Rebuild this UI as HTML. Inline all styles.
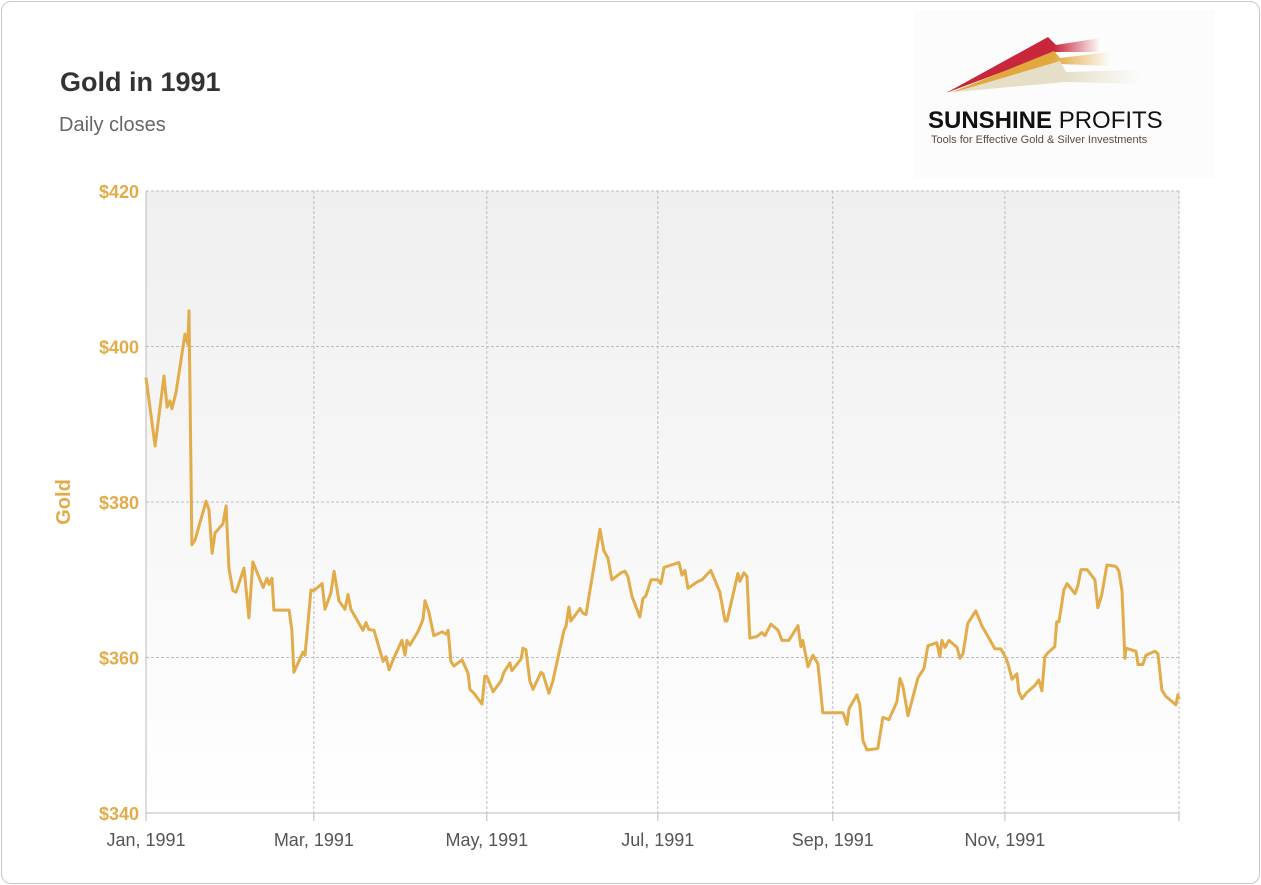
<!DOCTYPE html>
<html><head><meta charset="utf-8"><style>
html,body{margin:0;padding:0;background:#fff;}
body{width:1261px;height:885px;overflow:hidden;font-family:"Liberation Sans",sans-serif;}
#card{position:absolute;left:1px;top:1px;width:1257px;height:881px;border:1px solid #c8c8c8;border-radius:10px;background:#fff;}
</style></head><body>
<div id="card"></div>
<svg id="chart" width="1261" height="885" style="position:absolute;left:0;top:0">
<defs>
<linearGradient id="bg" x1="0" y1="0" x2="0" y2="1"><stop offset="0" stop-color="#efefef"/><stop offset="1" stop-color="#ffffff"/></linearGradient>
<linearGradient id="fr" x1="0" x2="1"><stop offset="0" stop-color="#c8263a"/><stop offset="0.7" stop-color="#c8263a"/><stop offset="1" stop-color="#c8263a" stop-opacity="0"/></linearGradient>
<linearGradient id="fo" x1="0" x2="1"><stop offset="0" stop-color="#e3a83d"/><stop offset="0.65" stop-color="#e3a83d"/><stop offset="1" stop-color="#e3a83d" stop-opacity="0"/></linearGradient>
<linearGradient id="fb" x1="0" x2="1"><stop offset="0" stop-color="#e6dfc8"/><stop offset="0.6" stop-color="#e6dfc8"/><stop offset="1" stop-color="#e6dfc8" stop-opacity="0"/></linearGradient>
</defs>
<text x="60" y="91" font-size="27" font-weight="bold" fill="#333">Gold in 1991</text>
<text x="59" y="131" font-size="20" fill="#666">Daily closes</text>
<g>
<rect x="915" y="10" width="300" height="168" fill="#fcfcfc"/>
<polygon points="946,93 1048,37 1056,45 1100,38 1100,52 1056,52" fill="url(#fr)"/>
<polygon points="950,93 1054,51 1060,58 1110,52 1110,66 1060,64" fill="url(#fo)"/>
<polygon points="955,92 1060,61 1066,72 1140,70 1140,84 1066,82" fill="url(#fb)"/>
<text x="928" y="128" font-size="24" font-weight="bold" fill="#111">SUNSHINE <tspan font-weight="normal">PROFITS</tspan></text>
<text x="931" y="143" font-size="11" fill="#5a4a40">Tools for Effective Gold &amp; Silver Investments</text>
</g>
<rect x="146" y="191" width="1033" height="622" fill="url(#bg)"/>
<g id="grid"></g><g id="axes"></g><g id="series"></g>
<text transform="translate(70,502) rotate(-90)" text-anchor="middle" font-size="20" font-weight="bold" fill="#e2ac4a">Gold</text>
</svg>
<script>
const days=[0,3.2,6.3,7.4,8.4,9.1,10.5,13.7,14.7,15.1,16.1,17.2,21.1,22.1,23.2,24.2,27,28.1,29.1,30.5,31.6,34.4,36.1,37.5,41.1,42.5,43.2,44.2,44.9,50.2,51.2,51.9,55.1,55.8,56.5,57.9,58.9,61.8,62.8,64.9,66,67.7,69.8,70.9,71.9,76.1,77.2,78.2,80,83.2,84.2,85.3,86.7,89.8,90.9,91.6,92.6,95.4,97.2,97.9,99.3,101,103.9,105.3,106,107,108.1,110.9,113,113.7,115.1,117.9,118.9,119.6,121.8,124.6,125.6,127.7,128.4,131.6,132.3,133.3,134.7,135.8,138.6,139.3,141.4,142.8,146.7,147.4,148.4,149.1,152.3,153.3,154.4,159.3,160.7,162.1,163.5,166.7,168.1,169.1,170.5,173.3,174.4,175.4,177.2,179.6,180.7,181.8,187,188.1,189.1,190.2,193.3,195.1,198.2,201.4,203.2,203.9,207.7,208.4,209.8,210.9,211.9,214.4,216.1,217.2,219.3,221.8,223.2,225.6,228.8,229.8,230.5,232.3,234,235.8,237.5,239.6,244.6,246,246.7,249.5,250.5,251.6,253,256.8,258.6,260.7,263.5,264.6,265.6,267.4,270.9,273,274.4,277.5,278.6,279.3,280.4,281.8,284.6,285.6,286.7,288.4,291.2,293.3,295.8,297.9,300,301.8,302.5,303.9,305.6,306.3,307.4,309.1,311.9,313.3,314.4,315.4,316.5,318.9,319.6,320.4,322.1,323.2,326,327,328.1,330.2,333,334,335.4,337.2,340.4,341.4,342.5,343.5,343.9,347.4,348.1,349.8,350.9,354,355.1,356.5,357.9,361.4,362.1,362.5];
const closes=[396,387.2,396.2,392.2,393,392,394,401.6,400.3,404.6,374.5,375.1,380.1,379,373.4,376,377.2,379.5,371.5,368.6,368.4,371.5,365.1,372.3,369,370.2,369.4,370.2,366.1,366.1,363.5,358.1,360.7,360.3,363.1,368.7,368.6,369.5,366.2,368.3,371.1,367.3,366.2,368.1,366.2,363.5,364.5,363.6,363.5,359.5,360.1,358.4,359.7,362.2,360.3,362.2,361.6,363.3,364.9,367.3,365.8,362.8,363.3,363,363.5,359.5,358.9,359.7,358,355.9,355.4,354,357.6,357.6,355.6,357,358.1,359.3,358.3,359.8,361.2,361,357,355.9,358.1,357.9,355.4,357,363.5,364,366.5,364.7,366.3,365.7,365.5,376.5,373.7,372.8,370,370.9,371.1,370.4,367.9,365.2,367.6,367.9,370,370,369.5,371.6,372.2,370.6,371.2,368.9,369.7,370,371.2,368.4,364.7,364.7,370.8,369.8,370.9,370.4,362.5,362.7,363.2,362.8,364.3,363.5,362.2,362.2,364.1,361.4,362.2,358.8,360.3,359.2,352.9,352.9,352.9,351.4,353.4,355.2,353.9,349.3,348.1,348.3,352.3,352,354.3,357.3,356.3,352.5,357.4,358.6,361.5,361.9,360.1,362.2,361.3,362.2,361.3,359.9,360.5,364.4,366,364.1,362.5,361.1,361.1,359.9,359.2,357.2,357.9,355.6,354.7,355.5,356.4,357.1,355.7,360.1,360.6,361.4,364.6,364.6,368.7,369.5,368.2,369.2,371.3,371.3,370,366.4,368.1,371.9,371.7,371.1,368.6,359.9,361.2,360.8,359.1,359.1,360.3,360.8,360.5,355.8,355,353.9,355.2,354.6];
const yTicks=[340,360,380,400,420];
const xTickDays=[0,58.9,119.6,179.6,241,301.4,362.5];
const xTickLabels=["Jan, 1991","Mar, 1991","May, 1991","Jul, 1991","Sep, 1991","Nov, 1991",""];
const NS="http://www.w3.org/2000/svg";
const X0=146,X1=1179,Y0=813,Y1=191;
function xs(d){return X0+d*(X1-X0)/362.5;}
function ys(v){return Y0-(v-340)*(Y0-Y1)/80;}
function mk(t,a,p){const e=document.createElementNS(NS,t);for(const k in a)e.setAttribute(k,a[k]);p.appendChild(e);return e;}
const grid=document.getElementById('grid'),axes=document.getElementById('axes'),ser=document.getElementById('series');
yTicks.forEach(v=>{
  const y=ys(v);
  if(v>340){const l=mk('line',{x1:X0,x2:X1,y1:y,y2:y,stroke:'#bdbdbd','stroke-dasharray':'3,2'},grid);
  
  }
  const t=mk('text',{x:139,y:y+7,'text-anchor':'end','font-size':18,'font-weight':'bold',fill:'#e2ac4a'},axes);
  t.textContent='$'+v;
  
  
});
xTickDays.forEach((d,i)=>{
  const x=xs(d);
  if(i>0){const l=mk('line',{x1:x,x2:x,y1:Y1,y2:Y0,stroke:'#bdbdbd','stroke-dasharray':'3,2'},grid);
  
  }
  const tk=mk('line',{x1:x,x2:x,y1:Y0,y2:Y0+8,stroke:'#bbb'},axes);
  
  
  if(xTickLabels[i]){const t=mk('text',{x:x,y:846,'text-anchor':'middle','font-size':18,fill:'#555'},axes);
  t.textContent=xTickLabels[i];
  
  }
});
const ax=mk('line',{x1:X0,x2:X1,y1:Y0,y2:Y0,stroke:'#bbb'},axes);


const ay=mk('line',{x1:X0,x2:X0,y1:Y1,y2:Y0,stroke:'#bbb'},axes);


const pts=days.map((d,i)=>xs(d).toFixed(1)+','+ys(closes[i]).toFixed(1)).join(' ');
const pl=mk('polyline',{points:pts,fill:'none',stroke:'#e2ac4a','stroke-width':3,'stroke-linejoin':'round'},ser);


</script>
</body></html>
